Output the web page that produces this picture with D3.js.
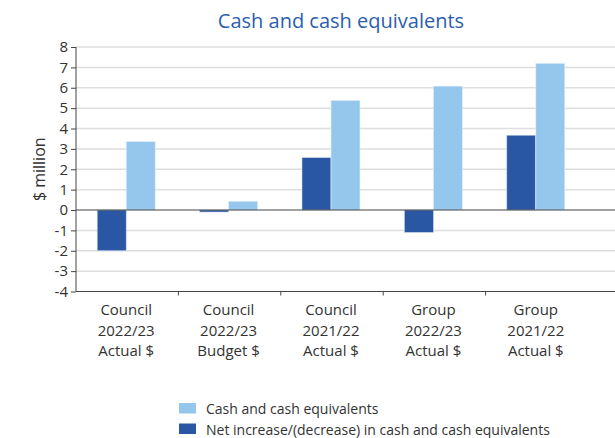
<!DOCTYPE html>
<html>
<head>
<meta charset="utf-8">
<script src="https://cdn.jsdelivr.net/npm/d3@7"></script>
<style>
  body { margin: 0; background: #fff; }
  text { font-family: "Open Sans", sans-serif; }
</style>
</head>
<body>
<div id="chart"></div>
<script>
var categories = [
    ["Council", "2022/23", "Actual $"],
    ["Council", "2022/23", "Budget $"],
    ["Council", "2021/22", "Actual $"],
    ["Group", "2022/23", "Actual $"],
    ["Group", "2021/22", "Actual $"]
];
var netChange = [-2.0, -0.1, 2.57, -1.1, 3.67];
var cashValues = [3.36, 0.43, 5.38, 6.08, 7.2];
var yTicks = [-4, -3, -2, -1, 0, 1, 2, 3, 4, 5, 6, 7, 8];
var seriesNames = ["Cash and cash equivalents", "Net increase/(decrease) in cash and cash equivalents"];

var width = 615, height = 438;
var darkBlue = "#2957a4", lightBlue = "#95c6ec";

var svg = d3.select("#chart").append("svg")
    .attr("width", width)
    .attr("height", height);

var x = d3.scaleBand()
    .domain(d3.range(categories.length))
    .range([76, 588]);

var y = d3.scaleLinear()
    .domain([-4, 8])
    .range([291.5, 47]);

var barW = 29;

// gridlines
svg.append("g").selectAll("line")
    .data(yTicks.filter(function(d){ return d != 0 && d != -4; }))
    .enter().append("line")
    .attr("x1", 76).attr("x2", width)
    .attr("y1", function(d){ return y(d); })
    .attr("y2", function(d){ return y(d); })
    .style("stroke", "#dedede")
    .style("stroke-width", 1.5);

// bars
var bars = svg.append("g");
bars.selectAll("rect.net")
    .data(netChange)
    .enter().append("rect")
    .attr("class", "net")
    .attr("x", function(d, i){ return x(i) + x.bandwidth()/2 - barW - 1; })
    .attr("y", function(d){ return y(Math.max(0, d)); })
    .attr("width", barW)
    .attr("height", function(d){ return Math.abs(y(d) - y(0)); })
    .style("fill", darkBlue)
    .style("stroke", "#c9d6ec")
    .style("stroke-width", 0.6);

bars.selectAll("rect.cash")
    .data(cashValues)
    .enter().append("rect")
    .attr("class", "cash")
    .attr("x", function(d, i){ return x(i) + x.bandwidth()/2 - 1; })
    .attr("y", function(d){ return y(Math.max(0, d)); })
    .attr("width", barW)
    .attr("height", function(d){ return Math.abs(y(d) - y(0)); })
    .style("fill", lightBlue)
    .style("stroke", "#e3f0fb")
    .style("stroke-width", 0.6);

// zero line
svg.append("line")
    .attr("x1", 76).attr("x2", width)
    .attr("y1", y(0)).attr("y2", y(0))
    .style("stroke", "#444")
    .style("stroke-width", 1.2);

// y axis
var yAxis = svg.append("g")
    .attr("transform", "translate(76,0)")
    .call(d3.axisLeft(y).tickValues(yTicks).tickSize(5).tickPadding(3).tickFormat(d3.format("d")));
yAxis.select(".domain").style("stroke", "#444").attr("d", "M0," + y(8) + "V" + y(-4));
yAxis.selectAll(".tick line").style("stroke", "#444");
yAxis.selectAll("text")
    .style("font-size", "15px")
    .style("fill", "#333")
    .text(function(d){ return d < 0 ? "-" + Math.abs(d) : d; });

// x axis baseline
svg.append("line")
    .attr("x1", 76).attr("x2", width)
    .attr("y1", y(-4)).attr("y2", y(-4))
    .style("stroke", "#444")
    .style("stroke-width", 1.2);

svg.append("g").selectAll("line")
    .data(d3.range(1, categories.length))
    .enter().append("line")
    .attr("x1", function(d){ return x(d); })
    .attr("x2", function(d){ return x(d); })
    .attr("y1", y(-4)).attr("y2", y(-4) + 4)
    .style("stroke", "#444");

// category labels
var catLabels = svg.append("g").selectAll("text")
    .data(categories)
    .enter().append("text")
    .attr("text-anchor", "middle")
    .style("font-size", "15px")
    .style("fill", "#333");
catLabels.each(function(d, i){
    var t = d3.select(this);
    d.forEach(function(line, j){
        t.append("tspan")
            .attr("x", x(i) + x.bandwidth()/2 - 1)
            .attr("y", 315 + j * 20.5)
            .text(line);
    });
});

// y label
svg.append("text")
    .attr("transform", "translate(45," + y(2) + ") rotate(-90)")
    .attr("text-anchor", "middle")
    .style("font-size", "16px")
    .style("fill", "#333")
    .text("$ million");

// title
svg.append("text")
    .attr("x", 341)
    .attr("y", 28)
    .attr("text-anchor", "middle")
    .style("font-size", "20px")
    .style("fill", "#2b5ead")
    .text("Cash and cash equivalents");

// legend
var legendColors = [lightBlue, darkBlue];
var legend = svg.append("g").selectAll("g")
    .data(seriesNames)
    .enter().append("g")
    .attr("transform", function(d, i){ return "translate(179," + (403 + i * 20.5) + ")"; });
legend.append("rect")
    .attr("width", 17).attr("height", 10.5)
    .style("fill", function(d, i){ return legendColors[i]; });
legend.append("text")
    .attr("x", 27).attr("y", 11)
    .style("font-size", "14px")
    .style("fill", "#333")
    .text(function(d){ return d; });
</script>
</body>
</html>
